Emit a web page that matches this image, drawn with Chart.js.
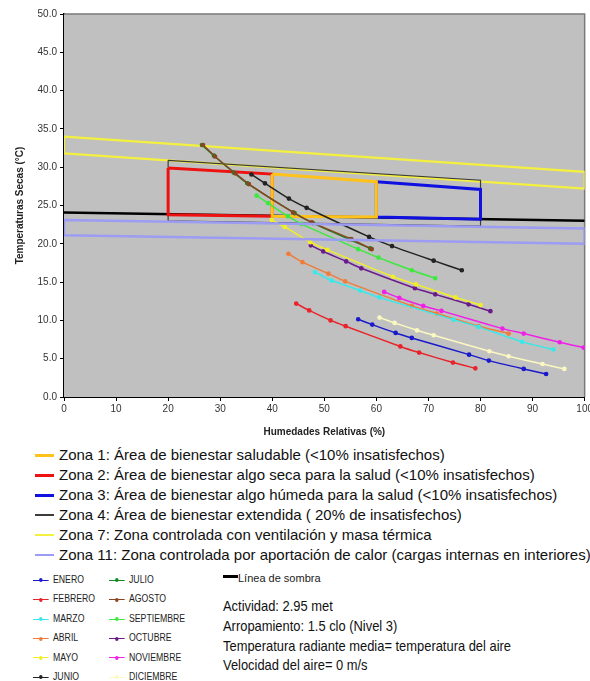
<!DOCTYPE html>
<html lang="es">
<head>
<meta charset="UTF-8" />
<title>Diagrama bioclimático</title>
<script src="https://cdn.jsdelivr.net/npm/chart.js"></script>
<style>
  body { margin: 0; background: #fff; overflow: hidden; font-family: "Liberation Sans", Arial, sans-serif; }
  #wrap { position: absolute; left: 0; top: 0; width: 595px; height: 442px; }
  .leg { position: absolute; color: #111; white-space: nowrap; }
  .zonas { left: 35px; top: 445px; font-size: 15px; }
  .zonas div { height: 20px; line-height: 20px; }
  .sw { display: inline-block; width: 19px; height: 2px; vertical-align: middle; margin-right: 5px; position: relative; top: -1px; }
  .meses { top: 570px; font-size: 10px; color: #222; transform: scaleX(0.87); transform-origin: left top; }
  .meses div { height: 19.4px; line-height: 19.4px; }
  .mk { display: inline-block; width: 18px; height: 1px; vertical-align: middle; margin-right: 5px; position: relative; }
  .mk i { position: absolute; left: 7px; top: -1.5px; width: 4px; height: 4px; border-radius: 2px; }
  .notas { left: 223px; top: 597px; font-size: 14.5px; transform: scaleX(0.89); transform-origin: left top; }
  .notas div { height: 19.8px; line-height: 19.8px; }
</style>
</head>
<body>
<div id="wrap"><canvas id="chart" width="595" height="442"></canvas></div>

<div class="leg zonas" id="zonas"></div>
<div class="leg meses" id="mesesA" style="left:33px"></div>
<div class="leg meses" id="mesesB" style="left:109px"></div>
<div class="leg" style="left:223px; top:572px; font-size:11px; color:#222;"><span style="display:inline-block;width:15px;height:3px;background:#000;vertical-align:middle;position:relative;top:-3px;"></span>Línea de sombra</div>
<div class="leg notas">
  <div>Actividad: 2.95 met</div>
  <div>Arropamiento: 1.5 clo (Nivel 3)</div>
  <div>Temperatura radiante media= temperatura del aire</div>
  <div>Velocidad del aire= 0 m/s</div>
</div>

<script>
  // zonas de confort (humedad relativa %, temperatura seca °C), polígonos cerrados
  const zona1HR = [40, 60, 60, 40, 40];
  const zona1T  = [29.1, 28.1, 23.5, 23.6, 29.1];
  const zona2HR = [20, 40, 40, 20, 20];
  const zona2T  = [29.9, 29.1, 23.6, 23.8, 29.9];
  const zona3HR = [60, 80, 80, 60, 60];
  const zona3T  = [28.1, 27.1, 23.2, 23.5, 28.1];
  const zona4HR = [20, 80, 80, 20, 20];
  const zona4T  = [30.9, 28.3, 22.3, 23.0, 30.9];
  const zona7HR = [0, 100, 100, 0, 0];
  const zona7T  = [34.0, 29.4, 27.2, 31.8, 34.0];
  const zona11HR = [0, 100, 100, 0, 0];
  const zona11T  = [23.1, 22.0, 20.0, 21.1, 23.1];
  const sombraHR = [0, 100];
  const sombraT  = [24.1, 23.0];

  const zonaNombres = [
    'Zona 1: Área de bienestar saludable (<10% insatisfechos)',
    'Zona 2: Área de bienestar algo seca para la salud (<10% insatisfechos)',
    'Zona 3: Área de bienestar algo húmeda para la salud (<10% insatisfechos)',
    'Zona 4: Área de bienestar extendida ( 20% de insatisfechos)',
    'Zona 7: Zona controlada con ventilación y masa térmica',
    'Zona 11: Zona controlada por aportación de calor (cargas internas en interiores)'
  ];

  // curvas mensuales
  const meses = ['ENERO', 'FEBRERO', 'MARZO', 'ABRIL', 'MAYO', 'JUNIO',
                 'JULIO', 'AGOSTO', 'SEPTIEMBRE', 'OCTUBRE', 'NOVIEMBRE', 'DICIEMBRE'];
  const eneroHR = [56.5, 59.2, 63.7, 66.8, 77.8, 81.6, 88.3, 92.6];
  const eneroT  = [10.15, 9.45, 8.36, 7.71, 5.53, 4.75, 3.66, 3.0];
  const febreroHR = [44.6, 47.1, 51.2, 54.1, 64.6, 68.2, 74.7, 79.0];
  const febreroT  = [12.2, 11.3, 10.0, 9.24, 6.6, 5.8, 4.5, 3.75];
  const marzoHR = [48.2, 51.4, 56.9, 60.6, 74.8, 79.6, 88.0, 94.0];
  const marzoT  = [16.3, 15.2, 13.9, 13.0, 10.1, 9.15, 7.2, 6.2];
  const abrilHR = [43.1, 45.8, 50.8, 54.0, 66.8, 71.6, 79.6, 85.4];
  const abrilT  = [18.7, 17.6, 16.1, 15.1, 11.9, 10.9, 9.24, 8.28];
  const mayoHR = [39.9, 42.4, 47.3, 50.6, 63.2, 67.6, 75.2, 80.0];
  const mayoT  = [23.1, 22.2, 20.2, 19.2, 15.7, 14.7, 13.0, 12.0];
  const junioHR = [36.0, 38.6, 43.2, 46.6, 58.6, 63.0, 71.0, 76.4];
  const junioT  = [29.05, 27.9, 25.9, 24.7, 20.9, 19.7, 17.8, 16.55];
  const julioHR = [26.5, 28.8, 32.6, 35.2, 44.3, 47.8, 54.7, 58.8];
  const julioT  = [32.9, 31.5, 29.3, 27.9, 24.0, 22.7, 20.6, 19.4];
  const agostoHR = [26.7, 29.0, 32.9, 35.5, 44.0, 47.6, 55.2, 59.1];
  const agostoT  = [32.9, 31.4, 29.2, 27.8, 24.1, 22.8, 20.6, 19.3];
  const septiembreHR = [37.0, 39.2, 43.0, 45.6, 56.5, 60.4, 66.8, 71.3];
  const septiembreT  = [26.3, 25.3, 23.6, 22.6, 19.3, 18.2, 16.55, 15.5];
  const octubreHR = [47.4, 49.8, 54.2, 57.1, 67.4, 71.3, 77.7, 81.9];
  const octubreT  = [19.8, 19.0, 17.7, 16.8, 14.2, 13.4, 12.1, 11.2];
  const noviembreHR = [61.5, 64.4, 69.0, 72.5, 84.2, 88.3, 95.2, 99.8];
  const noviembreT  = [13.72, 12.93, 11.89, 11.24, 8.93, 8.28, 7.15, 6.45];
  const diciembreHR = [60.6, 63.5, 67.8, 71.0, 81.7, 85.4, 91.9, 96.1];
  const diciembreT  = [10.37, 9.67, 8.71, 8.06, 5.97, 5.32, 4.31, 3.66];

  const xTicks = [0, 10, 20, 30, 40, 50, 60, 70, 80, 90, 100];
  const yTicks = [0, 5, 10, 15, 20, 25, 30, 35, 40, 45, 50];

  const mesHR = [eneroHR, febreroHR, marzoHR, abrilHR, mayoHR, junioHR, julioHR, agostoHR, septiembreHR, octubreHR, noviembreHR, diciembreHR];
  const mesT  = [eneroT, febreroT, marzoT, abrilT, mayoT, junioT, julioT, agostoT, septiembreT, octubreT, noviembreT, diciembreT];
  const mesColor = ['#1a1acc', '#e8242a', '#3ae8e8', '#f07c3a', '#f2ee2a', '#222222',
                    '#118a22', '#8a4422', '#3ee83e', '#6a1a8a', '#f020e8', '#fbf8c0'];
  const zonaColor = ['#ffc21a', '#ee1111', '#1010e0', '#3c3c3c', '#f4f040', '#9c9cf4'];

  const pts = (xs, ys) => xs.map((x, i) => ({ x: x, y: ys[i] }));

  const lineSet = (label, xs, ys, color, width, order) => ({
    label, data: pts(xs, ys), borderColor: color, backgroundColor: color,
    borderWidth: width, pointRadius: 0, showLine: true, tension: 0, order
  });

  const datasets = [];
  datasets.push(lineSet(zonaNombres[5], zona11HR, zona11T, zonaColor[5], 2.5, 0));
  meses.forEach((m, i) => {
    datasets.push({
      label: m, data: pts(mesHR[i], mesT[i]), borderColor: mesColor[i], backgroundColor: mesColor[i],
      borderWidth: 1.5, pointRadius: 1.6, pointHoverRadius: 1.6, showLine: true, tension: 0.2,
      order: m === 'JULIO' ? 3 : 1
    });
  });
  datasets.push(lineSet(zonaNombres[0], zona1HR, zona1T, zonaColor[0], 3, 5));
  datasets.push(lineSet(zonaNombres[2], zona3HR, zona3T, zonaColor[2], 3, 5));
  datasets.push(lineSet(zonaNombres[1], zona2HR, zona2T, zonaColor[1], 3, 6));
  datasets.push(lineSet(zonaNombres[3], zona4HR, zona4T, zonaColor[3], 1.2, 7));
  datasets.push(lineSet(zonaNombres[4], zona7HR, zona7T, zonaColor[4], 2.2, 8));
  datasets.push(lineSet('Línea de sombra', sombraHR, sombraT, '#000000', 2.5, 9));

  const plotBox = {
    id: 'plotBox',
    beforeDatasetsDraw(chart) {
      const { ctx, chartArea: a } = chart;
      ctx.save();
      ctx.fillStyle = '#c0c0c0';
      ctx.fillRect(a.left, a.top, a.right - a.left, a.bottom - a.top);
      ctx.strokeStyle = '#7a7a7a';
      ctx.lineWidth = 1.5;
      ctx.beginPath();
      ctx.moveTo(a.left, a.top);
      ctx.lineTo(a.right, a.top);
      ctx.lineTo(a.right, a.bottom);
      ctx.stroke();
      ctx.restore();
    }
  };

  new Chart(document.getElementById('chart'), {
    type: 'scatter',
    data: { datasets },
    plugins: [plotBox],
    options: {
      responsive: false,
      animation: false,
      devicePixelRatio: 1,
      layout: { padding: { top: 14, left: 0, right: 0, bottom: 0 } },
      plugins: { legend: { display: false }, tooltip: { enabled: false } },
      scales: {
        x: {
          type: 'linear', min: 0, max: 100,
          afterBuildTicks: s => { s.ticks = xTicks.map(v => ({ value: v })); },
          afterFit: s => { s.height = 45; },
          ticks: { color: '#333', font: { size: 10 }, padding: 2 },
          grid: { drawOnChartArea: false, drawTicks: true, tickLength: 4, color: '#000' },
          border: { color: '#000', width: 2 },
          title: { display: true, text: 'Humedades Relativas (%)', color: '#222', font: { size: 10, weight: 'bold' }, padding: { top: 8 } }
        },
        y: {
          min: 0, max: 50,
          afterBuildTicks: s => { s.ticks = yTicks.map(v => ({ value: v })); },
          afterFit: s => { s.width = 64; },
          ticks: { color: '#333', font: { size: 10 }, padding: 3, callback: v => v.toFixed(1) },
          grid: { drawOnChartArea: false, drawTicks: true, tickLength: 4, color: '#000' },
          border: { color: '#000', width: 2 },
          title: { display: true, text: 'Temperaturas Secas (°C)', color: '#222', font: { size: 10, weight: 'bold' }, padding: { top: 14 } }
        }
      }
    }
  });

  // leyendas
  const zonasEl = document.getElementById('zonas');
  const zonaGrosor = [3, 3, 3, 1.5, 2, 2];
  zonaNombres.forEach((nombre, i) => {
    const d = document.createElement('div');
    d.innerHTML = `<span class="sw" style="background:${zonaColor[i]};height:${zonaGrosor[i]}px"></span>${nombre}`;
    zonasEl.appendChild(d);
  });
  meses.forEach((m, i) => {
    const d = document.createElement('div');
    d.innerHTML = `<span class="mk" style="background:${mesColor[i]}"><i style="background:${mesColor[i]}"></i></span>${m}`;
    document.getElementById(i < 6 ? 'mesesA' : 'mesesB').appendChild(d);
  });
</script>
</body>
</html>
